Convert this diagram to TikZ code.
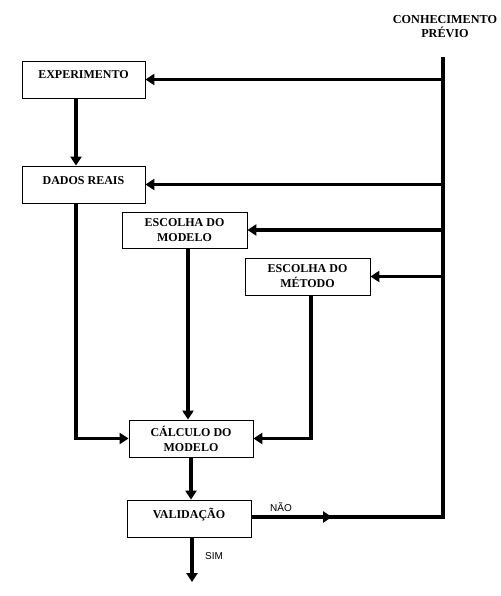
\documentclass[tikz,border=0pt]{standalone}
\usepackage{fontspec}
\setmainfont{Liberation Serif}
\newfontfamily\rotulofont{Liberation Sans}
\usetikzlibrary{arrows.meta,positioning,calc}

\begin{document}
\begin{tikzpicture}[x=1pt, y=-1pt,
		bloco/.style={draw, rectangle, line width=0.8pt, minimum width=124pt, minimum height=37pt, align=center, font=\fontsize{12}{15}\selectfont\bfseries, inner sep=1pt},
		simples/.style={text height=9pt, text depth=10pt},
		seta/.style={line width=3.6pt, -{Triangle[length=9pt, width=11pt]}},
		linha/.style={line width=3.6pt},
		rotulo/.style={font=\rotulofont\fontsize{10}{12}\selectfont}]
	\useasboundingbox (0,0) rectangle (500,596);
	
	% Conhecimento previo
	\node[align=center, font=\fontsize{12.2}{14}\selectfont\bfseries] (conh) at (445,27) {CONHECIMENTO\\PRÉVIO};
	\coordinate (ktop) at (443,57);
	\coordinate (kbot) at (443,517);
	\coordinate (kmeio) at (332,517);
	
	% Blocos
	\node[bloco, simples, minimum width=123pt] (exp) at (83.5,79.5) {EXPERIMENTO};
	\node[bloco, simples, minimum width=123pt] (dados) at (83.5,184.5) {DADOS REAIS};
	\node[bloco, minimum width=125pt, minimum height=36pt] (escmod) at (184.5,230) {ESCOLHA DO\\MODELO};
	\node[bloco, minimum width=125pt] (escmet) at (307.5,276.5) {ESCOLHA DO\\MÉTODO};
	\node[bloco] (calc) at (191,438.5) {CÁLCULO DO\\MODELO};
	\node[bloco, simples] (valid) at (189,518.5) {VALIDAÇÃO};
	\coordinate (fim) at (192,582);
	
	% Linha de realimentacao
	\draw[linha] (valid.east |- kbot) -- (kmeio);
	\draw[seta] (valid.east |- kbot) -- (kmeio);
	\draw[linha] (kmeio) -- (kbot) -- (ktop);
	\node[rotulo] (nao) at (281,507) {NÃO};
	
	\draw[seta] (exp.east -| ktop) -- (exp.east);
	\draw[seta] (dados.east -| ktop) -- (dados.east);
	\draw[seta] (escmod.east -| ktop) -- (escmod.east);
	\draw[seta] (escmet.east -| ktop) -- (escmet.east);
	
	% Fluxo principal
	\draw[seta] ([xshift=-7.5pt]exp.south) -- ([xshift=-7.5pt]dados.north);
	\draw[seta] ([xshift=-7.5pt]dados.south) |- (calc.west);
	\draw[seta] ([xshift=3.5pt]escmod.south) -- ([xshift=3.5pt]escmod.south |- calc.north);
	\draw[seta] ([xshift=3.5pt]escmet.south) |- (calc.east);
	\draw[seta] (calc.south) -- (calc.south |- valid.north);
	\draw[seta] ([xshift=3pt]valid.south) -- (fim);
	\node[rotulo] (sim) at (214,556) {SIM};
\end{tikzpicture}
\end{document}
